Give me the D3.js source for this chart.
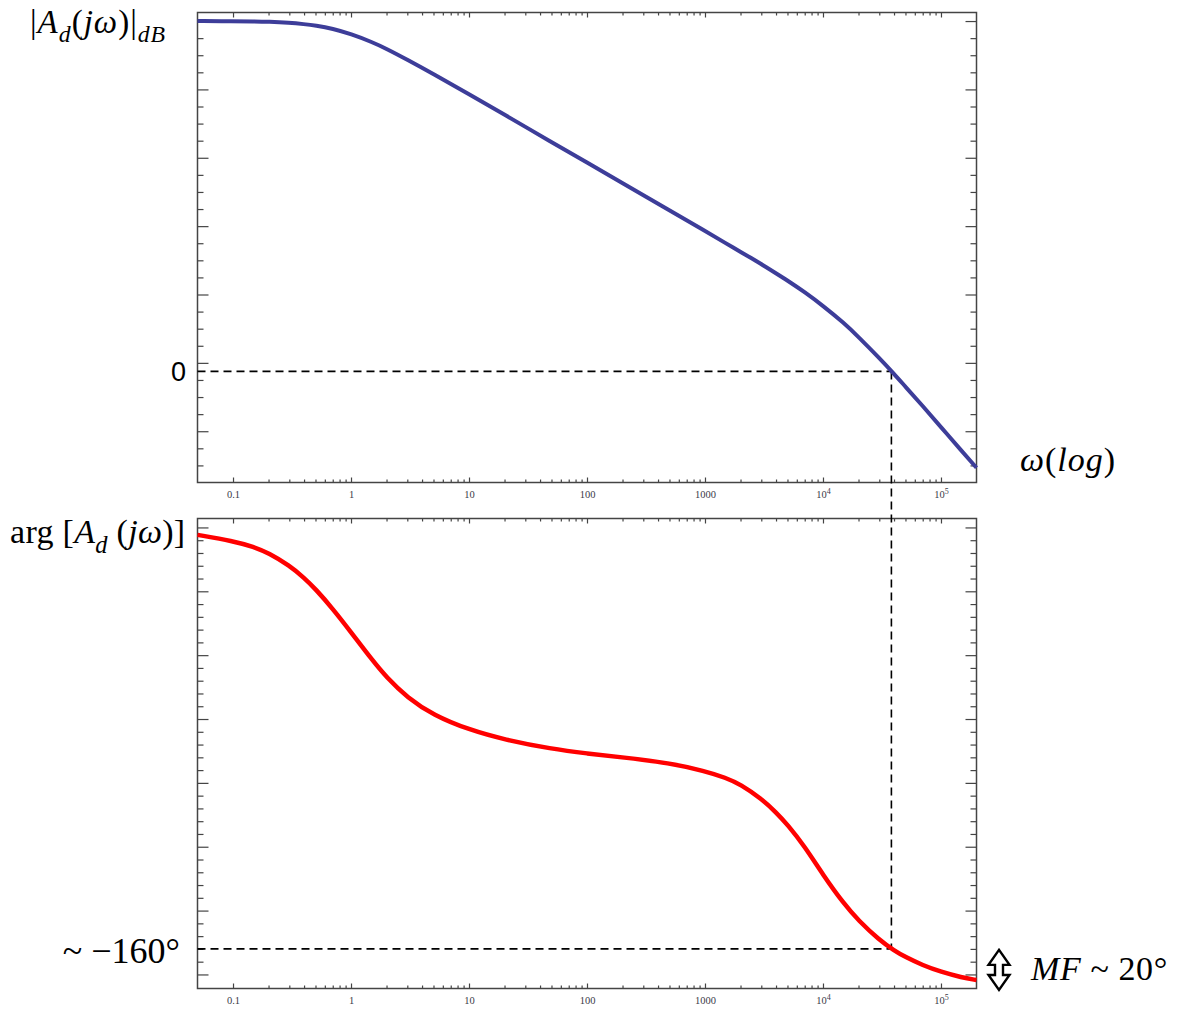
<!DOCTYPE html>
<html>
<head>
<meta charset="utf-8">
<script src="https://cdn.jsdelivr.net/npm/d3@7"></script>
<style>
  body { margin: 0; background: #fff; }
  svg { display: block; }
  .frame { fill: none; stroke: #444; stroke-width: 1.5; }
  .tick line { stroke: #444; stroke-width: 1.2; }
  .tick text { font-family: "Liberation Serif", serif; font-size: 10.5px; fill: #3a3a48; }
  .math { font-family: "Liberation Serif", serif; fill: #000; }
  .dash { stroke: #000; stroke-width: 1.6; stroke-dasharray: 8 5; fill: none; }
</style>
</head>
<body>
<svg id="bode" width="1177" height="1011"></svg>
<script>
// frequency samples (rad/s) and readings from the two curves
const omega = [0.05, 0.1, 0.15, 0.2, 0.3, 0.4, 0.5, 0.7, 1, 1.5, 2, 3, 5, 10, 20, 50, 100, 200, 500,
               1000, 1500, 2000, 3000, 4000, 5000, 7000, 1e4, 1.5e4, 2e4, 3e4, 4e4, 5e4, 7e4, 1e5, 1.5e5, 2e5];
const gainDb = [102.5, 102.4, 102.4, 102.3, 102.0, 101.6, 101.2, 100.3, 98.7, 96.4, 94.4, 91.2, 87.0, 81.1, 75.1, 67.1, 61.1, 55.1, 47.1,
                41.1, 37.5, 35.0, 31.4, 28.7, 26.6, 23.2, 19.2, 14.2, 10.1, 3.9, -0.7, -4.5, -10.1, -16.3, -23.3, -28.2];
const phaseDeg = [2.1, -0.3, -2.6, -5.0, -9.9, -14.7, -19.1, -26.8, -36.0, -46.7, -53.7, -61.6, -68.5, -74.2, -78.1, -81.7, -83.5, -85.0, -87.2,
                  -90.4, -93.0, -95.6, -101.2, -106.5, -111.3, -119.9, -131.0, -142.3, -148.9, -156.5, -160.6, -163.2, -166.4, -169.0, -171.2, -172.2];

// axis ticks
const decadeTicks = [0.1, 1, 10, 100, 1000, 1e4, 1e5];
const gainTicks = d3.range(-27.5, 105, 5);      // major every 20 dB
const phaseTicks = d3.range(-170, 8, 5);        // major every 25 deg

// crossover point and margin
const crossover = { omega: 3.8e4, gainDb: 0, phaseDeg: -160 };
const marginDeg = 20;

const svg = d3.select("#bode");
const left = 197.5, right = 976.5;

const x = d3.scaleLog().domain([0.05, 2e5]).range([left, right]);
const yMag = d3.scaleLinear().domain([-32.5, 105]).range([482.5, 12.5]);
const yPh = d3.scaleLinear().domain([-175.5, 8.5]).range([988.5, 518.5]);

const minorX = x.ticks().filter(v => v > 0.1 && v < 1e5 && !decadeTicks.includes(v));

function drawPanel(y, ticks, isMajor) {
    const [bottom, top] = y.range();
    const g = svg.append("g");

    const minorY = ticks.filter(v => !isMajor(v));
    const majorY = ticks.filter(isMajor);

    // left / right ticks pointing inward
    [[d3.axisLeft, left], [d3.axisRight, right]].forEach(([axis, xpos]) => {
        g.append("g").attr("transform", `translate(${xpos},0)`)
         .call(axis(y).tickValues(minorY).tickSizeInner(-6).tickSizeOuter(0).tickFormat(""))
         .call(a => a.select(".domain").remove());
        g.append("g").attr("transform", `translate(${xpos},0)`)
         .call(axis(y).tickValues(majorY).tickSizeInner(-11).tickSizeOuter(0).tickFormat(""))
         .call(a => a.select(".domain").remove());
    });

    // top ticks
    g.append("g").attr("transform", `translate(0,${top})`)
     .call(d3.axisTop(x).tickValues(minorX).tickSizeInner(-3).tickSizeOuter(0).tickFormat(""))
     .call(a => a.select(".domain").remove());
    g.append("g").attr("transform", `translate(0,${top})`)
     .call(d3.axisTop(x).tickValues(decadeTicks).tickSizeInner(-5).tickSizeOuter(0).tickFormat(""))
     .call(a => a.select(".domain").remove());

    // bottom ticks with labels
    g.append("g").attr("transform", `translate(0,${bottom})`)
     .call(d3.axisBottom(x).tickValues(minorX).tickSizeInner(-3).tickSizeOuter(0).tickFormat(""))
     .call(a => a.select(".domain").remove());
    g.append("g").attr("transform", `translate(0,${bottom})`)
     .call(d3.axisBottom(x).tickValues(decadeTicks).tickSizeInner(-5).tickSizeOuter(0).tickPadding(8)
           .tickFormat(v => v >= 1e4 ? "" : (v < 1 ? "0.1" : String(v))))
     .call(a => a.select(".domain").remove())
     .selectAll(".tick text")
     .each(function(v) {
         if (v < 1e4) return;
         const t = d3.select(this);
         t.append("tspan").text("10");
         t.append("tspan").attr("dy", "-0.45em").attr("font-size", "8px").text(Math.round(Math.log10(v)));
     });

    g.append("rect").attr("class", "frame")
     .attr("x", left).attr("y", top)
     .attr("width", right - left).attr("height", bottom - top);
    return g;
}

drawPanel(yMag, gainTicks, v => Math.abs(((v - 2.5) / 20) % 1) < 1e-9);
drawPanel(yPh, phaseTicks, v => Math.abs(((v + 170) / 25) % 1) < 1e-9);

// dashed guides through the crossover
const xc = x(crossover.omega);
svg.append("line").attr("class", "dash")
   .attr("x1", left).attr("x2", xc)
   .attr("y1", yMag(crossover.gainDb)).attr("y2", yMag(crossover.gainDb));
svg.append("line").attr("class", "dash")
   .attr("x1", xc).attr("x2", xc)
   .attr("y1", yMag(crossover.gainDb)).attr("y2", yPh(crossover.phaseDeg));
svg.append("line").attr("class", "dash")
   .attr("x1", left).attr("x2", xc)
   .attr("y1", yPh(crossover.phaseDeg)).attr("y2", yPh(crossover.phaseDeg));

// curves
const idx = d3.range(omega.length);
const smooth = d3.curveBasis;
svg.append("path")
   .attr("d", d3.line().x(i => x(omega[i])).y(i => yMag(gainDb[i])).curve(smooth)(idx))
   .attr("fill", "none").attr("stroke", "#3d3d99").attr("stroke-width", 4);
svg.append("path")
   .attr("d", d3.line().x(i => x(omega[i])).y(i => yPh(phaseDeg[i])).curve(smooth)(idx))
   .attr("fill", "none").attr("stroke", "#ff0000").attr("stroke-width", 4.5);

// math labels: parts are [text, italic, sub]
function mathText(px, py, size, parts, anchor) {
    const t = svg.append("text").attr("class", "math")
        .attr("x", px).attr("y", py).attr("font-size", size)
        .attr("text-anchor", anchor || "start");
    let shifted = false;
    parts.forEach(([s, it, sub]) => {
        const sp = t.append("tspan").text(s);
        if (it) sp.attr("font-style", "italic");
        if (sub && !shifted) { sp.attr("dy", size * 0.28).attr("font-size", size * 0.72); shifted = true; }
        else if (sub) sp.attr("font-size", size * 0.72);
        else if (shifted) { sp.attr("dy", -size * 0.28); shifted = false; }
    });
    return t;
}

mathText(30, 33, 33, [["|"], ["A", 1], ["d", 1, 1], ["("], ["jω", 1], [")"], ["|"], ["dB", 1, 1]]).attr("letter-spacing", 1);
svg.append("text").attr("x", 186).attr("y", yMag(0) + 10).attr("text-anchor", "end")
   .attr("font-family", "Liberation Sans, sans-serif").attr("font-size", 27).text("0");
mathText(1020, 471, 34, [["ω", 1], ["("], ["log", 1], [")"]]).attr("letter-spacing", 1);
mathText(10, 543, 34, [["arg ["], ["A", 1], ["d", 1, 1], [" ("], ["jω", 1], [")]"]]).attr("letter-spacing", 0.3);
mathText(180, yPh(crossover.phaseDeg) + 14, 36, [["~ −" + Math.abs(crossover.phaseDeg) + "°"]], "end");
mathText(1031, 980, 34, [["MF", 1], [" ~ " + marginDeg + "°"]]).attr("letter-spacing", 0.6);

// double arrow marking the phase margin
const ax = 999, ay0 = yPh(crossover.phaseDeg) + 1, ay1 = yPh(-175.5) + 1.5;
const hw = 10.5, iw = 4, hh = 15;
svg.append("path")
   .attr("d", `M${ax},${ay0} L${ax - hw},${ay0 + hh} L${ax - iw},${ay0 + hh} L${ax - iw},${ay1 - hh}
               L${ax - hw},${ay1 - hh} L${ax},${ay1} L${ax + hw},${ay1 - hh} L${ax + iw},${ay1 - hh}
               L${ax + iw},${ay0 + hh} L${ax + hw},${ay0 + hh} Z`)
   .attr("fill", "none").attr("stroke", "#000").attr("stroke-width", 2.4).attr("stroke-linejoin", "miter");
</script>
</body>
</html>
